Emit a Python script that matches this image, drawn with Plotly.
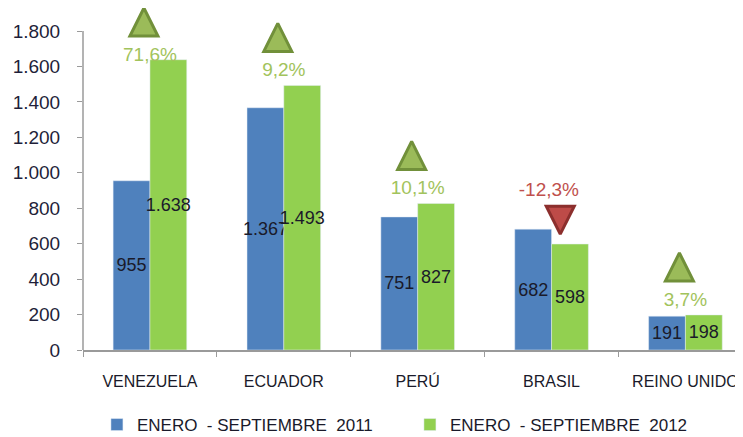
import plotly.graph_objects as go

countries = ["VENEZUELA", "ECUADOR", "PERÚ", "BRASIL", "REINO UNIDO"]
values_2011 = [955, 1367, 751, 682, 191]
values_2012 = [1638, 1493, 827, 598, 198]
pct_change = [71.6, 9.2, 10.1, -12.3, 3.7]
series_names = ["ENERO\u00a0\u00a0- SEPTIEMBRE\u00a0\u00a02011", "ENERO\u00a0\u00a0- SEPTIEMBRE\u00a0\u00a02012"]

BLUE = "#4F81BD"
GREEN = "#92D050"
UP_FILL, UP_LINE, UP_TEXT = "#9BBB59", "#71903A", "#A2C35C"
DOWN_FILL, DOWN_LINE, DOWN_TEXT = "#BE4B48", "#8C2F2D", "#C0504D"
AXIS_COLOR = "#9a9a9a"
SANS = "Liberation Sans, Arial, sans-serif"

# the page body keeps its default 8px margin, so the figure is 8px smaller
W, H = 735, 429
BOTTOM = 87
Y_MAX = 1800
PLOT_H = H - BOTTOM      # plot area reaches the top edge
AXIS_H = 319             # pixels used by the visible 0..1800 axis
Y_TOP = Y_MAX * PLOT_H / AXIS_H
U = Y_MAX / AXIS_H       # data units per pixel

fig = go.Figure()
for name, vals, color in [(series_names[0], values_2011, BLUE), (series_names[1], values_2012, GREEN)]:
    fig.add_trace(
        go.Bar(
            x=countries,
            y=vals,
            name=name,
            marker_color=color,
            texttemplate="%{y:,}",
            textposition="inside",
            insidetextanchor="middle",
            textangle=0,
            constraintext="none",
            textfont=dict(family=SANS, size=18, color="#1a1a2a"),
        )
    )

# change markers: triangle + percentage above each pair of bars
idx = list(range(len(countries)))
up = [i for i in idx if pct_change[i] >= 0]
down = [i for i in idx if pct_change[i] < 0]
up_tip = [min(max(values_2011[i], values_2012[i]) + 62 * U, Y_TOP) for i in up]
up_text = [min(max(values_2011[i], values_2012[i]) + 14 * U, t - 48 * U) for i, t in zip(up, up_tip)]


def pct_label(v):
    return f"{v:.1f}%".replace(".", ",")


overlay = dict(xaxis="x2", showlegend=False, cliponaxis=False, hoverinfo="skip")
fig.add_trace(
    go.Scatter(
        x=[i - 0.045 for i in up],
        y=up_tip,
        mode="markers",
        marker=dict(symbol="arrow-up", size=28, color=UP_FILL, line=dict(color=UP_LINE, width=3)),
        **overlay,
    )
)
fig.add_trace(
    go.Scatter(
        x=up,
        y=up_text,
        mode="text",
        text=[pct_label(pct_change[i]) for i in up],
        textfont=dict(family=SANS, size=19, color=UP_TEXT),
        **overlay,
    )
)
fig.add_trace(
    go.Scatter(
        x=[i + 0.065 for i in down],
        y=[values_2011[i] - 5 * U for i in down],
        mode="markers",
        marker=dict(symbol="arrow-down", size=28, color=DOWN_FILL, line=dict(color=DOWN_LINE, width=3)),
        **overlay,
    )
)
fig.add_trace(
    go.Scatter(
        x=[i - 0.02 for i in down],
        y=[max(values_2011[i], values_2012[i]) + 38 * U for i in down],
        mode="text",
        text=[pct_label(pct_change[i]) for i in down],
        textfont=dict(family=SANS, size=19, color=DOWN_TEXT),
        **overlay,
    )
)

# y axis line only up to the last tick
fig.add_shape(
    type="line", xref="paper", yref="y", x0=0, x1=0, y0=0, y1=Y_MAX,
    line=dict(color=AXIS_COLOR, width=1.5), layer="above",
)

x_range = [-0.5, 4.43]
fig.update_layout(
    width=W,
    height=H,
    margin=dict(l=75, r=0, t=0, b=BOTTOM, autoexpand=False),
    plot_bgcolor="white",
    paper_bgcolor="white",
    barmode="group",
    bargap=0.45,
    bargroupgap=0,
    separators=",.",
    xaxis=dict(
        type="category",
        range=x_range,
        showline=True,
        linecolor=AXIS_COLOR,
        linewidth=1.5,
        ticks="outside",
        tickson="boundaries",
        ticklen=5,
        tickcolor=AXIS_COLOR,
        ticklabelstandoff=16,
        tickfont=dict(family=SANS, size=16, color="#1a1a2a"),
        showgrid=False,
    ),
    xaxis2=dict(overlaying="x", range=x_range, visible=False),
    yaxis=dict(
        range=[0, Y_TOP],
        tickvals=list(range(0, Y_MAX + 1, 200)),
        showline=False,
        ticks="outside",
        ticklen=5,
        tickcolor=AXIS_COLOR,
        showgrid=False,
        zeroline=False,
        separatethousands=True,
        ticklabelstandoff=13,
        tickfont=dict(family=SANS, size=19, color="#1f1f3a"),
    ),
    legend=dict(
        orientation="h",
        xref="container",
        yref="container",
        x=0.121,
        xanchor="left",
        y=0.028,
        yanchor="middle",
        entrywidth=268,
        font=dict(family=SANS, size=17, color="#1a1a2a"),
    ),
)

fig.write_html("out.html")
